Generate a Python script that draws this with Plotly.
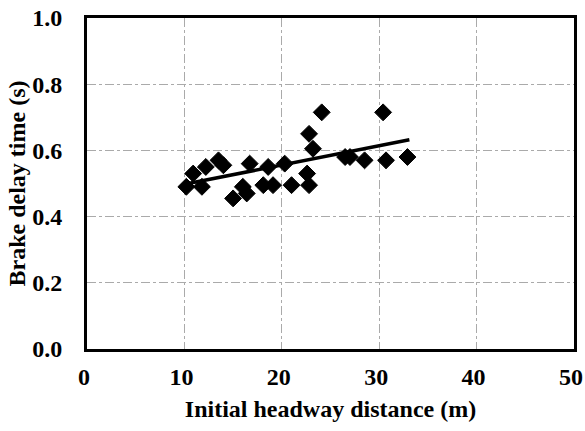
import plotly.graph_objects as go

# Data
headway_m = [10.2, 10.9, 11.8, 12.2, 13.5, 14.0, 15.0, 16.0, 16.4, 16.7,
             18.1, 18.6, 19.1, 20.3, 21.0, 22.6, 22.8, 22.8, 23.2, 24.1,
             26.5, 27.0, 28.5, 30.4, 30.7, 32.9]
delay_s = [0.49, 0.53, 0.49, 0.55, 0.57, 0.555, 0.455, 0.49, 0.47, 0.56,
           0.495, 0.55, 0.495, 0.56, 0.495, 0.53, 0.495, 0.65, 0.605, 0.715,
           0.58, 0.58, 0.57, 0.715, 0.57, 0.58]
trend_x = [10.4, 33.1]
trend_y = [0.50, 0.632]

x_ticks = [0, 10, 20, 30, 40, 50]
x_tick_labels = ["0", "10", "20", "30", "40", "50"]
y_ticks = [0.0, 0.2, 0.4, 0.6, 0.8, 1.0]
y_tick_labels = ["0.0", "0.2", "0.4", "0.6", "0.8", "1.0"]

FONT = "Liberation Serif, Times New Roman, serif"

fig = go.Figure()
fig.add_trace(go.Scatter(
    x=headway_m, y=delay_s, mode="markers",
    marker=dict(symbol="diamond", size=13, color="black",
                line=dict(width=1, color="black")),
    showlegend=False, cliponaxis=False))
fig.add_trace(go.Scatter(
    x=trend_x, y=trend_y, mode="lines",
    line=dict(color="black", width=3.5), showlegend=False))

fig.update_layout(
    width=585, height=431,
    margin=dict(l=87, r=11, t=18, b=82),
    paper_bgcolor="white", plot_bgcolor="white",
    font=dict(family=FONT, color="black", size=24, weight="bold"),
)
fig.update_xaxes(
    range=[0, 50], tickvals=x_ticks, ticktext=x_tick_labels, ticks="",
    ticklabelstandoff=4, ticklabelshift=-3, ticklabeloverflow="allow",
    showgrid=True, gridcolor="#aaaaaa", gridwidth=1, griddash="dashdot",
    showline=True, linecolor="black", linewidth=3, mirror=True,
    zeroline=False, automargin=False,
    tickfont=dict(family=FONT, size=24, weight="bold"),
    title=dict(text="Initial headway distance (m)", standoff=12,
               font=dict(family=FONT, size=24, weight="bold")),
)
fig.update_yaxes(
    range=[0, 1.0], tickvals=y_ticks, ticktext=y_tick_labels, ticks="",
    ticklabelstandoff=17, ticklabeloverflow="allow",
    showgrid=True, gridcolor="#aaaaaa", gridwidth=1, griddash="dashdot",
    showline=True, linecolor="black", linewidth=3, mirror=True,
    zeroline=False, automargin=False,
    tickfont=dict(family=FONT, size=24, weight="bold"),
    title=dict(text="Brake delay time (s)", standoff=0,
               font=dict(family=FONT, size=24, weight="bold")),
)

# Remove the page's default body margin so the figure sits at the top-left.
fig.write_html("out.html", config={"displayModeBar": False},
               post_script="document.body.style.margin='0';")
